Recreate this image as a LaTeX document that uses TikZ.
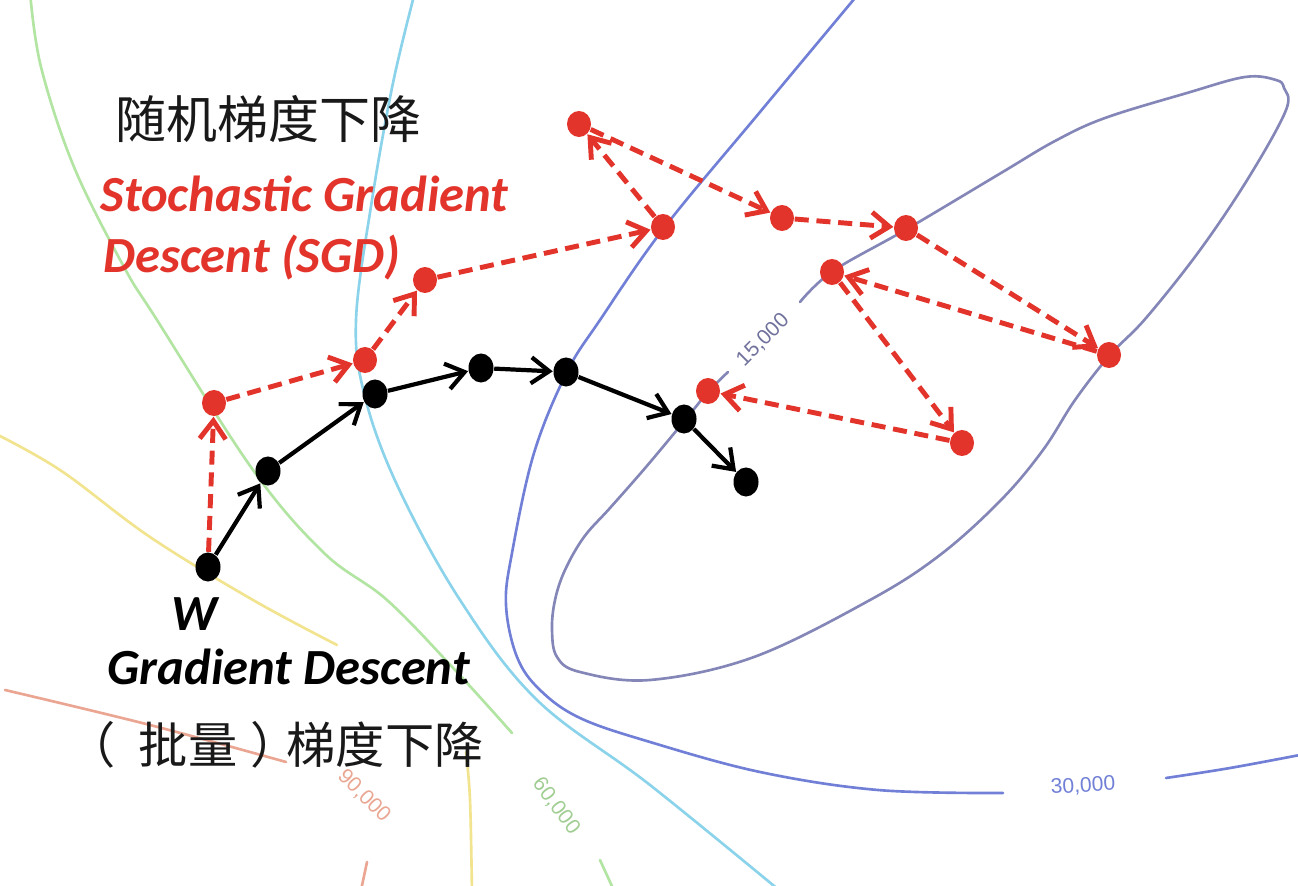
\documentclass[tikz,border=0pt]{standalone}
\usepackage{fontspec}
\setmainfont{Carlito}
\setsansfont{Liberation Sans}
\newfontfamily\cjkfont{Noto Sans CJK SC}
\usetikzlibrary{shapes.geometric, arrows.meta}
\definecolor{sgdred}{HTML}{E3342B}
\definecolor{lvlinner}{HTML}{8486B8}
\definecolor{lvlblue}{HTML}{7180D6}
\definecolor{lvlcyan}{HTML}{8AD3EA}
\definecolor{lvlgreen}{HTML}{B2E4A2}
\definecolor{lvlyellow}{HTML}{F2E48E}
\definecolor{lvlsalmon}{HTML}{EAA692}

\begin{document}
\begin{tikzpicture}[
    x=0.01cm, y=-0.01cm,
    contour/.style={line width=0.75pt, line cap=round},
    lvl/.style={font=\sffamily\fontsize{6}{7}\selectfont, inner sep=0pt},
    gdpt/.style={ellipse, fill=black, inner sep=0pt, minimum width=2.5mm, minimum height=2.9mm},
    sgdpt/.style={ellipse, fill=sgdred, inner sep=0pt, minimum width=2.4mm, minimum height=2.6mm},
    gdarr/.style={-{Straight Barb[length=1.8mm, width=2.6mm]}, line width=1.2pt},
    sgdarr/.style={-{Straight Barb[length=1.8mm, width=2.6mm]}, line width=1.4pt, draw=sgdred, dash pattern=on 4pt off 2.2pt},
    entitle/.style={font=\bfseries\itshape\fontsize{14.4}{17}\selectfont, inner sep=0pt, anchor=base west},
    zhtitle/.style={font=\cjkfont\fontsize{14.5}{17}\selectfont, inner sep=0pt, anchor=base west, text=black!90},
]
    \fill[white] (0,0) rectangle (1298,886);
    \useasboundingbox (0,0) rectangle (1298,886);
    \clip (0,0) rectangle (1298,886);

    % Level curves
    \draw[contour, lvlinner] plot[smooth, tension=0.6] coordinates {(728,372) (708,392) (686,419) (646,467) (610,508) (584,537) (565,570) (555,600) (552,630) (557,657) (580,672) (650,680) (754,657) (870,600) (940,555) (1001,500) (1043,450) (1075,400) (1110,355) (1146,318) (1200,250) (1249,177) (1286,110) (1284,88) (1276,80) (1245,77) (1187,93) (1105,118) (1055,141) (1001,173) (907,229) (833,271) (800,302)};
    \draw[contour, lvlblue] plot[smooth, tension=0.6] coordinates {(860,-8) (760,112) (664,228) (600,320) (567,372) (534,453) (512,553) (506,605) (517,657) (540,690) (580,718) (650,742) (760,772) (878,790) (1003,793)};
    \draw[contour, lvlblue] plot[smooth, tension=0.6] coordinates {(1166,778) (1230,768) (1305,754)};
    \draw[contour, lvlcyan] plot[smooth, tension=0.6] coordinates {(415,-8) (393,83) (372,200) (356,320) (365,397) (398,487) (460,600) (537,700) (650,785) (785,895)};
    \draw[contour, lvlgreen] plot[smooth, tension=0.6] coordinates {(30,-8) (41,67) (74,167) (124,267) (157,320) (253,470) (324,553) (387,600) (455,670) (512,733)};
    \draw[contour, lvlgreen] plot[smooth, tension=0.6] coordinates {(600,860) (616,895)};
    \draw[contour, lvlyellow] plot[smooth, tension=0.6] coordinates {(-8,432) (60,470) (150,537) (253,600) (337,645)};
    \draw[contour, lvlyellow] plot[smooth, tension=0.6] coordinates {(466,752) (470,800) (472,895)};
    \draw[contour, lvlsalmon] plot[smooth, tension=0.6] coordinates {(5,690) (150,725) (286,762)};
    \draw[contour, lvlsalmon] plot[smooth, tension=0.6] coordinates {(367,862) (360,895)};

    \node[lvl, text=lvlinner!85!black, rotate=45] (l15) at (763,340) {15,000};
    \node[lvl, text=lvlblue, rotate=3] (l30) at (1083,786) {30,000};
    \node[lvl, text=lvlgreen!90!black, rotate=-53] (l60) at (556,806) {60,000};
    \node[lvl, text=lvlsalmon, rotate=-45] (l90) at (364,796) {90,000};

    % Gradient descent steps
    \node[gdpt] (w) at (208,567) {};
    \node[gdpt] (gd1) at (268,471) {};
    \node[gdpt] (gd2) at (375,394) {};
    \node[gdpt] (gd3) at (481,368) {};
    \node[gdpt] (gd4) at (566,372) {};
    \node[gdpt] (gd5) at (684,419) {};
    \node[gdpt] (gd6) at (746,482) {};

    % SGD steps
    \node[sgdpt] (sgd1) at (214,403) {};
    \node[sgdpt] (sgd2) at (365,360) {};
    \node[sgdpt] (sgd3) at (425,280) {};
    \node[sgdpt] (sgd4) at (663,227) {};
    \node[sgdpt] (sgd5) at (579,124) {};
    \node[sgdpt] (sgd6) at (782,218) {};
    \node[sgdpt] (sgd7) at (906,228) {};
    \node[sgdpt] (sgd8) at (1109,355) {};
    \node[sgdpt] (sgd9) at (832,272) {};
    \node[sgdpt] (sgd10) at (962,443) {};
    \node[sgdpt] (sgd11) at (708,391) {};

    \draw[gdarr] (w) -- (gd1);
    \draw[gdarr] (gd1) -- (gd2);
    \draw[gdarr] (gd2) -- (gd3);
    \draw[gdarr] (gd3) -- (gd4);
    \draw[gdarr] (gd4) -- (gd5);
    \draw[gdarr] (gd5) -- (gd6);

    \draw[sgdarr] (w) -- (sgd1);
    \draw[sgdarr] (sgd1) -- (sgd2);
    \draw[sgdarr] (sgd2) -- (sgd3);
    \draw[sgdarr] (sgd3) -- (sgd4);
    \draw[sgdarr] (sgd4) -- (sgd5);
    \draw[sgdarr] (sgd5) -- (sgd6);
    \draw[sgdarr] (sgd6) -- (sgd7);
    \draw[sgdarr] (sgd7) -- (sgd8);
    \draw[sgdarr] (sgd8) -- (sgd9);
    \draw[sgdarr] (sgd9) -- (sgd10);
    \draw[sgdarr] (sgd10) -- (sgd11);

    % Titles
    \node[zhtitle] (sgdzh) at (115,139) {随机梯度下降};
    \node[entitle, text=sgdred] (sgdenA) at (100,212) {Stochastic Gradient};
    \node[entitle, text=sgdred] (sgdenB) at (103,273) {Descent (SGD)};
    \node[entitle] (wlabel) at (171,630) {W};
    \node[entitle] (gden) at (107,684) {Gradient Descent};
    \node[zhtitle, font=\cjkfont\fontsize{14}{17}\selectfont] (gdzh) at (89,763) {\kern-0.48em（\kern0.48em批量\kern0.27em）\kern-0.27em梯度下降};
\end{tikzpicture}
\end{document}
